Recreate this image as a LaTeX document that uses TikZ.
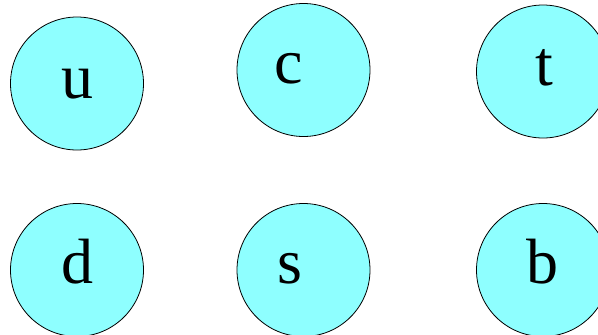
\documentclass[tikz,border=0pt]{standalone}
\usepackage{fontspec}
\setmainfont{Liberation Serif}
\definecolor{quarkfill}{HTML}{8EFFFF}
\begin{document}
\begin{tikzpicture}[x=1pt,y=-1pt,
  quark/.style={circle,draw=black,line width=0.8pt,fill=quarkfill,minimum size=133pt,inner sep=0pt},
  qlabel/.style={anchor=base,inner sep=0pt,font=\fontsize{64}{64}\selectfont}]
\useasboundingbox (0,0) rectangle (598,335);
\node[quark] (U) at (77,83.5) {};
\node[quark] (C) at (303.5,70) {};
\node[quark] (T) at (543,71.5) {};
\node[quark] (D) at (77,270) {};
\node[quark] (S) at (303.5,270) {};
\node[quark] (B) at (543,270) {};
\node[qlabel] (Ul) at (77,98) {u};
\node[qlabel] (Cl) at (289,83) {c};
\node[qlabel] (Tl) at (544,85) {t};
\node[qlabel] (Dl) at (77.5,283) {d};
\node[qlabel] (Sl) at (290,283) {s};
\node[qlabel] (Bl) at (542,283) {b};
\end{tikzpicture}
\end{document}
